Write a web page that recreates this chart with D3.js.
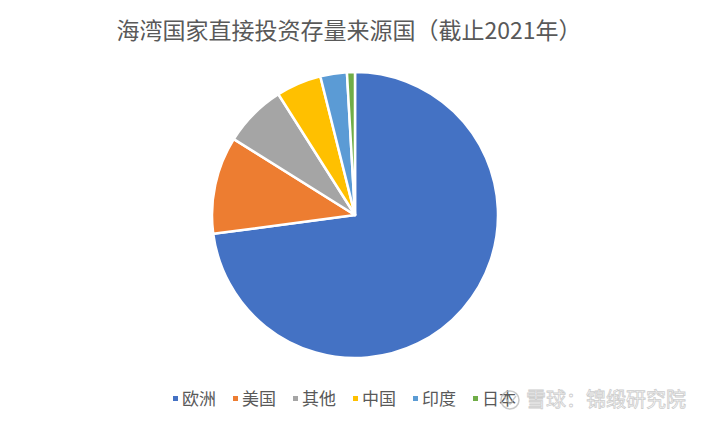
<!DOCTYPE html>
<html>
<head>
<meta charset="utf-8">
<script src="https://cdn.jsdelivr.net/npm/d3@7"></script>
<style>
  html, body { margin: 0; padding: 0; background: #fff; }
  svg { display: block; }
</style>
</head>
<body>
<svg id="pie"></svg>
<script>
//  data
const categories = ["欧洲", "美国", "其他", "中国", "印度", "日本"];
const values = [72.9, 11.0, 7.1, 5.1, 3.0, 0.9];
const colors = ["#4472C4", "#ED7D31", "#A5A5A5", "#FFC000", "#5B9BD5", "#70AD47"];
const title_text = "海湾国家直接投资存量来源国（截止2021年）";
const watermark_text = "雪球：锦缎研究院";

//  draw pie chart
function draw_pie() {
  const w = 712;
  const h = 427;
  const cx = 355;
  const cy = 215;
  const radius = 143;
  const font = "'Noto Sans CJK SC', 'Noto Sans', sans-serif";

  const svg = d3.select("#pie").attr("width", w).attr("height", h);

  //  clear svg
  svg.selectAll('*').remove();

  //  title
  svg.append("text")
     .attr("x", 349)
     .attr("y", 39)
     .attr("text-anchor", "middle")
     .style("font-family", font)
     .style("font-size", "23px")
     .style("fill", "#595959")
     .text(title_text);

  const color = d3.scaleOrdinal().domain(categories).range(colors);

  const pie = d3.pie()
    .value(i => values[i])
    .sort(null);

  const arc = d3.arc().innerRadius(0).outerRadius(radius);

  svg.append("g")
     .attr("transform", `translate(${cx},${cy})`)
     .selectAll("path")
     .data(pie(d3.range(categories.length)))
     .join("path")
     .attr("d", arc)
     .attr("fill", d => color(categories[d.data]))
     .attr("stroke", "#fff")
     .attr("stroke-width", 2.5)
     .attr("stroke-linejoin", "round");

  //  legend
  const legend_x = d3.scalePoint()
    .domain(categories)
    .range([173, 473]);

  const legend = svg.append("g")
    .selectAll("g")
    .data(categories)
    .join("g")
    .attr("transform", d => `translate(${legend_x(d)},399)`);

  legend.append("rect")
        .attr("x", 0)
        .attr("y", -3)
        .attr("width", 5)
        .attr("height", 5)
        .attr("fill", d => color(d));

  legend.append("text")
        .attr("x", 9)
        .attr("y", 6)
        .style("font-family", font)
        .style("font-size", "17px")
        .style("fill", "#595959")
        .text(d => d);

  //  watermark
  const wm = svg.append("g")
    .attr("transform", "translate(500,400)")
    .attr("opacity", 0.75);

  wm.append("circle")
    .attr("cx", 10)
    .attr("cy", 0)
    .attr("r", 9)
    .attr("fill", "none")
    .attr("stroke", "#b8b8b8")
    .attr("stroke-width", 1.5);

  wm.append("path")
    .attr("d", "M4,-4 L10,4 L16,-4")
    .attr("fill", "none")
    .attr("stroke", "#b8b8b8")
    .attr("stroke-width", 1.5);

  wm.append("text")
    .attr("x", 26)
    .attr("y", 7)
    .style("font-family", font)
    .style("font-size", "20px")
    .style("fill", "#ffffff")
    .style("stroke", "#bcbcbc")
    .style("stroke-width", 0.8)
    .text(watermark_text);
}

draw_pie();
</script>
</body>
</html>
